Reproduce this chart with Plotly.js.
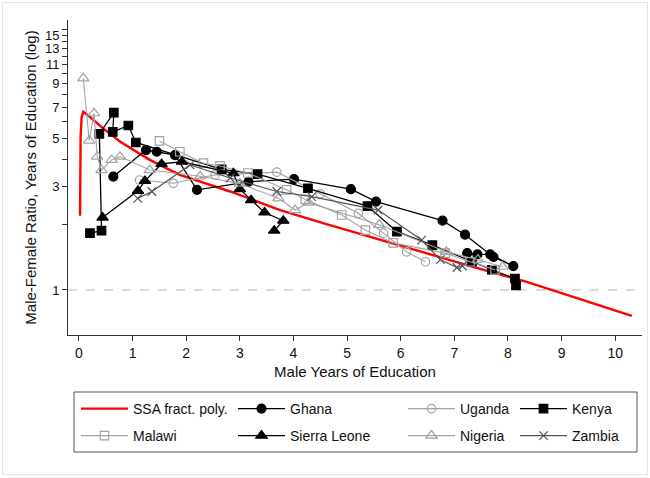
<!DOCTYPE html>
<html>
<head>
<meta charset="utf-8">
<script src="https://cdn.plot.ly/plotly-3.0.1.min.js"></script>
<style>
  html, body { margin: 0; padding: 0; background: #fff; }
  #wrap { position: relative; width: 650px; height: 478px; }
  #chart { position: absolute; left: 0; top: 0; width: 650px; height: 478px; }
  #frame { position: absolute; left: 2px; top: 2px; width: 644px; height: 471px; border: 1px solid #e4e4e4; pointer-events: none; }
</style>
</head>
<body>
<div id="wrap"><div id="chart"></div><div id="frame"></div></div>
<script>
// ---- data ----
const ssaX = [0.02, 0.025, 0.03, 0.05, 0.08, 0.2, 0.45, 0.77, 1.08, 1.32, 1.7, 1.88, 2.82, 3.75, 4.6, 5.62, 6.36, 7.3, 8.35, 9.3, 10.31];
const ssaY = [2.2, 3.58, 5.1, 6.31, 6.66, 6.31, 5.58, 4.84, 4.35, 3.99, 3.58, 3.4, 2.85, 2.34, 2.02, 1.7, 1.5, 1.29, 1.09, 0.915, 0.76];

const ghanaX = [0.64, 1.25, 1.45, 1.79, 2.2, 3.16, 4.01, 5.07, 5.54, 6.78, 7.2, 7.73, 8.1, 7.67, 7.43, 7.24];
const ghanaY = [3.34, 4.43, 4.35, 4.2, 2.9, 3.16, 3.25, 2.92, 2.56, 2.09, 1.8, 1.42, 1.29, 1.46, 1.46, 1.48];

const ugandaX = [1.13, 1.76, 2.54, 3.69, 4.5, 5.21, 5.68, 6.11, 6.46];
const ugandaY = [3.22, 3.11, 3.4, 3.5, 2.78, 2.26, 1.83, 1.5, 1.35];

const kenyaX = [0.205, 0.42, 0.38, 0.65, 0.63, 0.92, 1.06, 2.66, 3.33, 4.27, 5.38, 5.93, 6.59, 7.33, 7.7, 8.13, 8.15];
const kenyaY = [1.83, 1.88, 5.26, 6.59, 5.37, 5.75, 4.8, 3.61, 3.43, 2.95, 2.44, 1.86, 1.61, 1.35, 1.24, 1.13, 1.05];

const malawiX = [1.5, 1.88, 2.32, 2.63, 3.15, 3.87, 4.22, 4.9, 5.34, 5.86, 6.83, 7.29, 7.76];
const malawiY = [4.88, 4.35, 3.85, 3.74, 3.47, 2.9, 2.62, 2.22, 1.89, 1.65, 1.48, 1.35, 1.24];

const sierraX = [0.44, 1.1, 1.23, 1.54, 1.92, 2.88, 3.0, 3.21, 3.46, 3.81, 3.64];
const sierraY = [2.16, 2.87, 3.19, 3.82, 3.91, 3.46, 2.92, 2.6, 2.28, 2.09, 1.88];

const nigeriaX = [0.08, 0.19, 0.28, 0.34, 0.42, 0.61, 0.765, 1.32, 2.26, 3.0, 3.72, 4.03, 4.28, 5.6, 6.85, 7.44, 7.9];
const nigeriaY = [9.5, 4.9, 6.55, 4.13, 3.58, 3.99, 4.13, 3.58, 3.35, 3.1, 2.65, 2.34, 2.53, 2.0, 1.5, 1.38, 1.28];

const zambiaX = [1.095, 1.36, 2.07, 2.82, 3.69, 4.34, 5.58, 6.39, 6.74, 7.05, 7.15];
const zambiaY = [2.65, 2.85, 3.78, 3.29, 2.85, 2.7, 2.34, 1.7, 1.38, 1.27, 1.29];

const xTicks = [0, 1, 2, 3, 4, 5, 6, 7, 8, 9, 10];
const yTicks = [1, 2, 3, 4, 5, 6, 7, 8, 9, 10, 11, 12, 13, 14, 15, 16];
const yTickText = ['1', '', '3', '', '5', '', '7', '', '9', '', '11', '', '13', '', '15', ''];
const refValue = 1;

// ---- layout constants ----
const xMin = -0.205, xMax = 10.5;
const FONT = 'Liberation Sans, Arial, sans-serif';
const grey = '#a3a3a3';

function series(name, x, y, color, symbol, size, lw, legendId) {
  return {
    type: 'scatter', mode: 'lines+markers', name: name, x: x, y: y,
    legend: legendId,
    line: { color: color, width: lw },
    marker: { symbol: symbol, size: size, color: color, line: { color: color, width: 1.2 } }
  };
}

const traces = [
  { type: 'scatter', mode: 'lines', x: [xMin, xMax], y: [refValue, refValue], showlegend: false,
    hoverinfo: 'skip', line: { color: '#b4b4b4', width: 1, dash: 'dash' } },
  { type: 'scatter', mode: 'lines', name: 'SSA fract. poly.', x: ssaX, y: ssaY, legend: 'legend',
    line: { color: '#ff0000', width: 2.4 } },
  series('Ghana', ghanaX, ghanaY, '#000000', 'circle', 9, 1.3, 'legend2'),
  series('Uganda', ugandaX, ugandaY, grey, 'circle-open', 8.5, 1.1, 'legend3'),
  series('Kenya', kenyaX, kenyaY, '#000000', 'square', 8.5, 1.3, 'legend4'),
  series('Malawi', malawiX, malawiY, grey, 'square-open', 8.5, 1.1, 'legend5'),
  series('Sierra Leone', sierraX, sierraY, '#000000', 'triangle-up', 10, 1.3, 'legend6'),
  series('Nigeria', nigeriaX, nigeriaY, grey, 'triangle-up-open', 10, 1.1, 'legend7'),
  series('Zambia', zambiaX, zambiaY, '#555555', 'x-thin-open', 8.5, 1.2, 'legend8')
];

const L = 68, R = 8, T = 20, B = 143, W = 650, H = 478;
const pw = W - L - R, ph = H - T - B;
const px2x = (px) => (px - L) / pw;
const py2y = (py) => -(py - (T + ph)) / ph;

function leg(pxLeft, pyMid) {
  return {
    x: px2x(pxLeft), y: py2y(pyMid), xanchor: 'left', yanchor: 'middle',
    orientation: 'v', bgcolor: 'rgba(0,0,0,0)', borderwidth: 0,
    font: { family: FONT, size: 14, color: '#111' }, itemwidth: 47
  };
}

const colText = [133, 290, 460, 572];
const rowMid = [409, 436];
const off = 57;

const layout = {
  width: W, height: H,
  margin: { l: L, r: R, t: T, b: B, autoexpand: false },
  paper_bgcolor: '#fff', plot_bgcolor: '#fff',
  font: { family: FONT, size: 14, color: '#111' },
  xaxis: {
    range: [xMin, xMax], tickvals: xTicks, ticks: 'outside', ticklen: 5, tickcolor: '#333',
    showline: true, linecolor: '#333', linewidth: 1, zeroline: false, showgrid: false,
    automargin: true,
    tickfont: { family: FONT, size: 14, color: '#111' },
    title: { text: 'Male Years of Education', standoff: 6, font: { family: FONT, size: 15, color: '#111' } }
  },
  yaxis: {
    type: 'log', range: [-0.208, 1.247], tickvals: yTicks, ticktext: yTickText,
    ticks: 'outside', ticklen: 5, tickcolor: '#333',
    showline: true, linecolor: '#333', linewidth: 1, zeroline: false, showgrid: false,
    automargin: true,
    tickfont: { family: FONT, size: 13, color: '#111' },
    title: { text: 'Male-Female Ratio, Years of Education (log)', standoff: 4, font: { family: FONT, size: 15, color: '#111' } }
  },
  legend: leg(colText[0] - off, rowMid[0]),
  legend2: leg(colText[1] - off, rowMid[0]),
  legend3: leg(colText[2] - off, rowMid[0]),
  legend4: leg(colText[3] - off, rowMid[0]),
  legend5: leg(colText[0] - off, rowMid[1]),
  legend6: leg(colText[1] - off, rowMid[1]),
  legend7: leg(colText[2] - off, rowMid[1]),
  legend8: leg(colText[3] - off, rowMid[1]),
  shapes: [
    { type: 'rect', xref: 'paper', yref: 'paper', x0: px2x(74), x1: px2x(637), y0: py2y(392), y1: py2y(452),
      line: { color: '#555', width: 1 }, fillcolor: 'rgba(0,0,0,0)' }
  ],
  showlegend: true
};

Plotly.newPlot('chart', traces, layout, { displayModeBar: false, staticPlot: true });
</script>
</body>
</html>
